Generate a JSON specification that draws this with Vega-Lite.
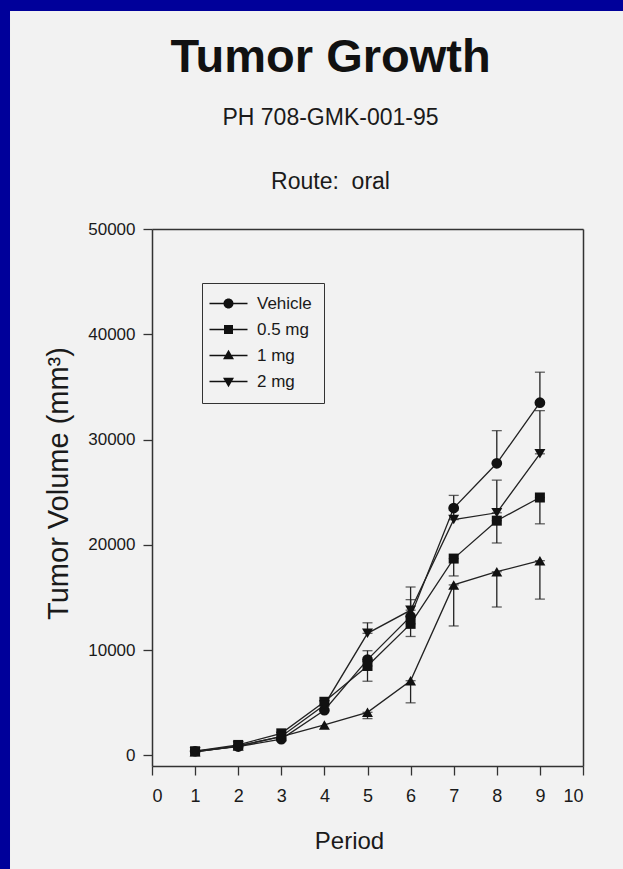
{
  "$schema": "https://vega.github.io/schema/vega-lite/v6.json",
  "width": 431,
  "height": 537,
  "autosize": {"type": "none"},
  "padding": {"left": 152, "top": 229, "right": 40, "bottom": 103},
  "background": "#00009A",
  "title": {
    "text": "Tumor Growth",
    "subtitle": ["PH 708-GMK-001-95", "Route:\u00a0\u00a0oral"],
    "anchor": "middle",
    "dx": -37,
    "dy": 218,
    "offset": 34,
    "font": "Liberation Sans",
    "fontSize": 47,
    "fontWeight": "bold",
    "color": "#111111",
    "subtitleFont": "Liberation Sans",
    "subtitleFontSize": 23,
    "subtitleColor": "#1a1a1a",
    "subtitlePadding": 25,
    "subtitleLineHeight": 64
  },
  "data": {
    "values": [
      {"period": 1, "group": "Vehicle", "vol": 400},
      {"period": 2, "group": "Vehicle", "vol": 850},
      {"period": 3, "group": "Vehicle", "vol": 1550},
      {"period": 4, "group": "Vehicle", "vol": 4300},
      {"period": 5, "group": "Vehicle", "vol": 9100, "lo": 9100, "hi": 9950},
      {"period": 6, "group": "Vehicle", "vol": 13200, "lo": 13200, "hi": 16000},
      {"period": 7, "group": "Vehicle", "vol": 23500, "lo": 23500, "hi": 24700},
      {"period": 8, "group": "Vehicle", "vol": 27750, "lo": 27750, "hi": 30850},
      {"period": 9, "group": "Vehicle", "vol": 33500, "lo": 33500, "hi": 36400},
      {"period": 1, "group": "0.5 mg", "vol": 400},
      {"period": 2, "group": "0.5 mg", "vol": 1000},
      {"period": 3, "group": "0.5 mg", "vol": 2100},
      {"period": 4, "group": "0.5 mg", "vol": 5100},
      {"period": 5, "group": "0.5 mg", "vol": 8500, "lo": 7050, "hi": 8500},
      {"period": 6, "group": "0.5 mg", "vol": 12500, "lo": 11300, "hi": 12500},
      {"period": 7, "group": "0.5 mg", "vol": 18700, "lo": 17050, "hi": 18700},
      {"period": 8, "group": "0.5 mg", "vol": 22300, "lo": 20180, "hi": 22300},
      {"period": 9, "group": "0.5 mg", "vol": 24500, "lo": 22000, "hi": 24500},
      {"period": 1, "group": "1 mg", "vol": 350},
      {"period": 2, "group": "1 mg", "vol": 900},
      {"period": 3, "group": "1 mg", "vol": 1800},
      {"period": 4, "group": "1 mg", "vol": 2900},
      {"period": 5, "group": "1 mg", "vol": 4100, "lo": 3500, "hi": 4100},
      {"period": 6, "group": "1 mg", "vol": 7100, "lo": 5000, "hi": 7100},
      {"period": 7, "group": "1 mg", "vol": 16200, "lo": 12300, "hi": 16200},
      {"period": 8, "group": "1 mg", "vol": 17450, "lo": 14100, "hi": 17450},
      {"period": 9, "group": "1 mg", "vol": 18500, "lo": 14850, "hi": 18500},
      {"period": 1, "group": "2 mg", "vol": 350},
      {"period": 2, "group": "2 mg", "vol": 900},
      {"period": 3, "group": "2 mg", "vol": 1800},
      {"period": 4, "group": "2 mg", "vol": 4800},
      {"period": 5, "group": "2 mg", "vol": 11600, "lo": 11600, "hi": 12600},
      {"period": 6, "group": "2 mg", "vol": 13800, "lo": 13800, "hi": 14800},
      {"period": 7, "group": "2 mg", "vol": 22400, "lo": 22400, "hi": 23300},
      {"period": 8, "group": "2 mg", "vol": 23050, "lo": 23050, "hi": 26150},
      {"period": 9, "group": "2 mg", "vol": 28650, "lo": 28650, "hi": 32750}
    ]
  },
  "resolve": {"axis": {"x": "independent", "y": "independent"}},
  "layer": [
    {
      "mark": {"type": "rect", "fill": "#F2F2F2", "clip": false},
      "encoding": {
        "x": {"datum": -3.29, "type": "quantitative", "scale": {"domain": [0, 10], "nice": false, "zero": false}, "axis": null},
        "x2": {"datum": 12},
        "y": {"datum": 70700, "type": "quantitative", "scale": {"domain": [-1000, 50000], "nice": false, "zero": false}, "axis": null},
        "y2": {"datum": -14000}
      }
    },
    {
      "transform": [{"filter": "isValid(datum.lo)"}],
      "mark": {"type": "errorbar", "color": "#222222", "thickness": 1.3, "ticks": {"size": 10, "color": "#222222", "strokeWidth": 1.3}},
      "encoding": {
        "x": {"field": "period", "type": "quantitative",
          "axis": {"orient": "top", "zindex": 1, "title": null, "labels": false, "ticks": false, "grid": false, "domain": true, "domainColor": "#333333", "domainWidth": 1.5}},
        "y": {"field": "lo", "type": "quantitative",
          "axis": {"orient": "right", "zindex": 1, "title": null, "labels": false, "ticks": false, "grid": false, "domain": true, "domainColor": "#333333", "domainWidth": 1.5}},
        "y2": {"field": "hi"}
      }
    },
    {
      "mark": {"type": "line", "color": "#222222", "strokeWidth": 1.3},
      "encoding": {
        "x": {
          "field": "period",
          "type": "quantitative",
          "axis": {
            "zindex": 1,
            "values": [0, 1, 2, 3, 4, 5, 6, 7, 8, 9, 10],
            "title": "Period",
            "grid": false,
            "tickSize": 9,
            "labelPadding": 12,
            "labelFontSize": 18,
            "labelFont": "Liberation Sans",
            "labelColor": "#1a1a1a",
            "titleFont": "Liberation Sans",
            "titleFontSize": 24,
            "titleFontWeight": "normal",
            "titleColor": "#1a1a1a",
            "titleX": 197,
            "titleY": 82,
            "titleBaseline": "alphabetic",
            "titleAlign": "center",
            "domainColor": "#333333",
            "domainWidth": 1.5,
            "tickColor": "#333333",
            "tickWidth": 1.3
          }
        },
        "y": {
          "field": "vol",
          "type": "quantitative",
          "axis": {
            "zindex": 1,
            "values": [0, 10000, 20000, 30000, 40000, 50000],
            "format": "d",
            "title": "Tumor Volume (mm³)",
            "grid": false,
            "tickSize": 9,
            "labelPadding": 8,
            "labelFontSize": 17,
            "labelFont": "Liberation Sans",
            "labelColor": "#1a1a1a",
            "titleFont": "Liberation Sans",
            "titleFontSize": 29,
            "titleFontWeight": "normal",
            "titleColor": "#1a1a1a",
            "titleAngle": 270,
            "titleX": -85,
            "titleY": 254,
            "titleBaseline": "alphabetic",
            "titleAlign": "center",
            "domainColor": "#333333",
            "domainWidth": 1.5,
            "tickColor": "#333333",
            "tickWidth": 1.3
          }
        },
        "detail": {"field": "group"}
      }
    },
    {
      "transform": [{"filter": "datum.group == 'Vehicle'"}],
      "mark": {"type": "point", "shape": "circle", "filled": true, "color": "#111111", "opacity": 1, "size": 115},
      "encoding": {
        "x": {"field": "period", "type": "quantitative", "axis": null},
        "y": {"field": "vol", "type": "quantitative", "axis": null}
      }
    },
    {
      "transform": [{"filter": "datum.group == '0.5 mg'"}],
      "mark": {"type": "point", "shape": "square", "filled": true, "color": "#111111", "opacity": 1, "size": 100},
      "encoding": {
        "x": {"field": "period", "type": "quantitative", "axis": null},
        "y": {"field": "vol", "type": "quantitative", "axis": null}
      }
    },
    {
      "transform": [{"filter": "datum.group == '1 mg'"}],
      "mark": {"type": "point", "shape": "triangle-up", "filled": true, "color": "#111111", "opacity": 1, "size": 120},
      "encoding": {
        "x": {"field": "period", "type": "quantitative", "axis": null},
        "y": {"field": "vol", "type": "quantitative", "axis": null}
      }
    },
    {
      "transform": [{"filter": "datum.group == '2 mg'"}],
      "mark": {"type": "point", "shape": "triangle-down", "filled": true, "color": "#111111", "opacity": 1, "size": 120},
      "encoding": {
        "x": {"field": "period", "type": "quantitative", "axis": null},
        "y": {"field": "vol", "type": "quantitative", "axis": null}
      }
    },
    {
      "transform": [{"filter": "datum.period > 100"}],
      "mark": {"type": "point", "filled": true, "color": "#111111", "opacity": 1},
      "encoding": {
        "x": {"field": "period", "type": "quantitative", "axis": null},
        "y": {"field": "vol", "type": "quantitative", "axis": null},
        "shape": {
          "field": "group",
          "type": "nominal",
          "scale": {
            "domain": ["Vehicle", "0.5 mg", "1 mg", "2 mg"],
            "range": [
              "M-3.8,-0.13H3.8V0.13H-3.8ZM1,0A1,1,0,1,1,-1,0A1,1,0,1,1,1,0Z",
              "M-3.8,-0.13H3.8V0.13H-3.8ZM-0.9,-0.9H0.9V0.9H-0.9Z",
              "M-3.8,-0.13H3.8V0.13H-3.8ZM0,-1.15L1.1,0.75H-1.1Z",
              "M-3.8,-0.13H3.8V0.13H-3.8ZM0,1.15L-1.1,-0.75H1.1Z"
            ]
          },
          "legend": {
            "title": null,
            "orient": "none",
            "legendX": 50,
            "legendY": 54,
            "strokeColor": "#333333",
            "fillColor": "#F2F2F2",
            "padding": 12,
            "symbolSize": 100,
            "symbolOffset": 6,
            "symbolOpacity": 1,
            "symbolFillColor": "#111111",
            "labelFont": "Liberation Sans",
            "labelFontSize": 17,
            "labelColor": "#1a1a1a",
            "labelOffset": 20,
            "rowPadding": 8,
            "zindex": 2
          }
        }
      }
    }
  ],
  "config": {
    "view": {"stroke": null},
    "axis": {"zindex": 1}
  }
}
